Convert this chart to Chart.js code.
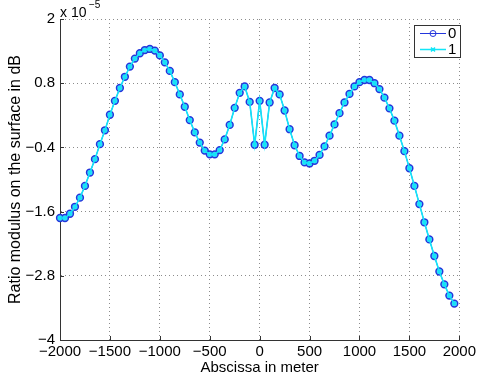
<!DOCTYPE html>
<html>
<head>
<meta charset="utf-8">
<script src="https://cdn.jsdelivr.net/npm/chart.js@4"></script>
<style>
  body { margin: 0; background: #ffffff; }
</style>
</head>
<body>
<canvas id="grafico" width="479" height="381"></canvas>
<script>
// Abscissa (m)
const abscissa = [
  -2000, -1950, -1900, -1850, -1800, -1750, -1700, -1650, -1600, -1550,
  -1500, -1450, -1400, -1350, -1300, -1250, -1200, -1150, -1100, -1050,
  -1000, -950, -900, -850, -800, -750, -700, -650, -600, -550,
  -500, -450, -400, -350, -300, -250, -200, -150, -100, -50,
  0, 50, 100, 150, 200, 250, 300, 350, 400, 450,
  500, 550, 600, 650, 700, 750, 800, 850, 900, 950,
  1000, 1050, 1100, 1150, 1200, 1250, 1300, 1350, 1400, 1450,
  1500, 1550, 1600, 1650, 1700, 1750, 1800, 1850, 1900, 1950
];

// Ratio modulus (x 1e-5 dB), serie "0"
const serie0 = [
  -1.72, -1.72, -1.64, -1.51, -1.34, -1.12, -0.87, -0.62, -0.34, -0.08,
  0.21, 0.47, 0.71, 0.92, 1.11, 1.26, 1.36, 1.42, 1.44, 1.41,
  1.32, 1.19, 1.03, 0.82, 0.59, 0.36, 0.11, -0.12, -0.31, -0.46,
  -0.53, -0.53, -0.45, -0.25, 0.02, 0.34, 0.62, 0.74, 0.45, -0.35,
  0.47, -0.35, 0.44, 0.71, 0.59, 0.29, -0.06, -0.36, -0.56, -0.68,
  -0.70, -0.65, -0.54, -0.38, -0.18, 0.03, 0.24, 0.44, 0.60, 0.74,
  0.82, 0.86, 0.86, 0.80, 0.69, 0.53, 0.33, 0.10, -0.18, -0.47,
  -0.79, -1.12, -1.46, -1.80, -2.12, -2.43, -2.72, -2.96, -3.17, -3.32
];

// Ratio modulus (x 1e-5 dB), serie "1"
const serie1 = [
  -1.72, -1.72, -1.64, -1.51, -1.34, -1.12, -0.87, -0.62, -0.34, -0.08,
  0.21, 0.47, 0.71, 0.92, 1.11, 1.26, 1.36, 1.42, 1.44, 1.41,
  1.32, 1.19, 1.03, 0.82, 0.59, 0.36, 0.11, -0.12, -0.31, -0.46,
  -0.53, -0.53, -0.45, -0.25, 0.02, 0.34, 0.62, 0.74, 0.45, -0.35,
  0.47, -0.35, 0.44, 0.71, 0.59, 0.29, -0.06, -0.36, -0.56, -0.68,
  -0.70, -0.65, -0.54, -0.38, -0.18, 0.03, 0.24, 0.44, 0.60, 0.74,
  0.82, 0.86, 0.86, 0.80, 0.69, 0.53, 0.33, 0.10, -0.18, -0.47,
  -0.79, -1.12, -1.46, -1.80, -2.12, -2.43, -2.72, -2.96, -3.17, -3.32
];

const legendLabels = ["0", "1"];

const xTicks = [-2000, -1500, -1000, -500, 0, 500, 1000, 1500, 2000];
const xTickLabels = ["\u22122000", "\u22121500", "\u22121000", "\u2212500", "0", "500", "1000", "1500", "2000"];

const yTicks = [-4, -2.8, -1.6, -0.4, 0.8, 2];
const yTickLabels = ["\u22124", "\u22122.8", "\u22121.6", "\u22120.4", "0.8", "2"];

const exponentBase = "x 10";
const exponentPower = "\u22125";

const azul = "#2436dc";
const ciano = "#12e6f8";

Chart.defaults.font.family = "'Liberation Sans', Arial, Helvetica, sans-serif";
Chart.defaults.color = "#000000";

// Ticks para dentro, legenda e expoente (estilo MATLAB)
const extras = {
  id: 'extras',
  afterDatasetsDraw(chart) {
    const c = chart.ctx;
    const area = chart.chartArea;
    const sx = chart.scales.x, sy = chart.scales.y;
    c.save();
    c.strokeStyle = "#333333";
    c.lineWidth = 1;
    c.beginPath();
    xTicks.forEach(v => {
      const px = Math.round(sx.getPixelForValue(v)) + 0.5;
      c.moveTo(px, area.bottom);
      c.lineTo(px, area.bottom - 4);
    });
    yTicks.forEach(v => {
      const py = Math.round(sy.getPixelForValue(v)) + 0.5;
      c.moveTo(area.left, py);
      c.lineTo(area.left + 4, py);
    });
    c.stroke();
    c.restore();
  },
  afterDraw(chart) {
    const c = chart.ctx;
    c.save();
    // expoente
    c.fillStyle = "#000";
    c.textBaseline = "alphabetic";
    c.font = "14px 'Liberation Sans', Arial";
    c.fillText(exponentBase, 60, 17);
    c.font = "10px 'Liberation Sans', Arial";
    c.fillText(exponentPower, 89, 8);

    // legenda
    const bx = 414.5, by = 25.5, bw = 46, bh = 32;
    c.fillStyle = "#ffffff";
    c.fillRect(bx, by, bw, bh);
    c.strokeStyle = "#333333";
    c.lineWidth = 1;
    c.strokeRect(bx, by, bw, bh);

    const rows = [33.5, 49.5];
    // linha 0
    c.strokeStyle = azul;
    c.lineWidth = 1;
    c.beginPath();
    c.moveTo(420, rows[0]);
    c.lineTo(446, rows[0]);
    c.stroke();
    c.beginPath();
    c.arc(433, rows[0], 3, 0, Math.PI * 2);
    c.stroke();
    // linha 1
    c.strokeStyle = ciano;
    c.lineWidth = 1.5;
    c.beginPath();
    c.moveTo(420, rows[1]);
    c.lineTo(446, rows[1]);
    c.moveTo(431, rows[1] - 2);
    c.lineTo(435, rows[1] + 2);
    c.moveTo(435, rows[1] - 2);
    c.lineTo(431, rows[1] + 2);
    c.stroke();

    c.fillStyle = "#000";
    c.font = "15px 'Liberation Sans', Arial";
    c.textBaseline = "middle";
    c.fillText(legendLabels[0], 448, rows[0]);
    c.fillText(legendLabels[1], 448, rows[1]);
    c.restore();
  }
};

const ctx = document.getElementById('grafico').getContext('2d');

const grafico = new Chart(ctx, {
  type: 'line',
  data: {
    datasets: [
      {
        label: legendLabels[0],
        data: abscissa.map((x, i) => ({ x: x, y: serie0[i] })),
        borderColor: azul,
        borderWidth: 1,
        pointStyle: 'circle',
        pointRadius: 3.4,
        pointBorderWidth: 1.5,
        pointBorderColor: azul,
        pointBackgroundColor: "#45d2f6",
        order: 1,
        clip: false
      },
      {
        label: legendLabels[1],
        data: abscissa.map((x, i) => ({ x: x, y: serie1[i] })),
        borderColor: ciano,
        borderWidth: 1.6,
        pointStyle: 'crossRot',
        pointRadius: 2.6,
        pointBorderWidth: 1.4,
        pointBorderColor: ciano,
        order: 0,
        clip: false
      }
    ]
  },
  options: {
    responsive: false,
    animation: false,
    events: [],
    layout: { padding: { top: 19, right: 16.5, left: 0, bottom: 0 } },
    plugins: {
      legend: { display: false },
      tooltip: { enabled: false }
    },
    scales: {
      x: {
        type: 'linear',
        min: -2000,
        max: 2000,
        afterBuildTicks: s => { s.ticks = xTicks.map(v => ({ value: v })); },
        afterFit: s => { s.height = 41; },
        grid: { color: "#8c8c8c", lineWidth: 1, drawTicks: false },
        border: { display: true, color: "#333333", dash: [1, 3] },
        ticks: {
          padding: 3,
          maxRotation: 0,
          autoSkip: false,
          font: { size: 15 },
          callback: v => xTickLabels[xTicks.indexOf(v)]
        },
        title: {
          display: true,
          text: "Abscissa in meter",
          font: { size: 15 },
          padding: { top: 0, bottom: 4 }
        }
      },
      y: {
        type: 'linear',
        min: -4,
        max: 2,
        afterBuildTicks: s => { s.ticks = yTicks.map(v => ({ value: v })); },
        afterFit: s => { s.width = 60; },
        grid: { color: "#8c8c8c", lineWidth: 1, drawTicks: false },
        border: { display: true, color: "#333333", dash: [1, 3] },
        ticks: {
          padding: 5,
          autoSkip: false,
          font: { size: 15 },
          callback: v => yTickLabels[yTicks.indexOf(v)]
        },
        title: {
          display: true,
          text: "Ratio modulus on the surface in dB",
          font: { size: 16 },
          padding: { top: 6, bottom: 0 }
        }
      }
    }
  },
  plugins: [extras]
});
</script>
</body>
</html>
